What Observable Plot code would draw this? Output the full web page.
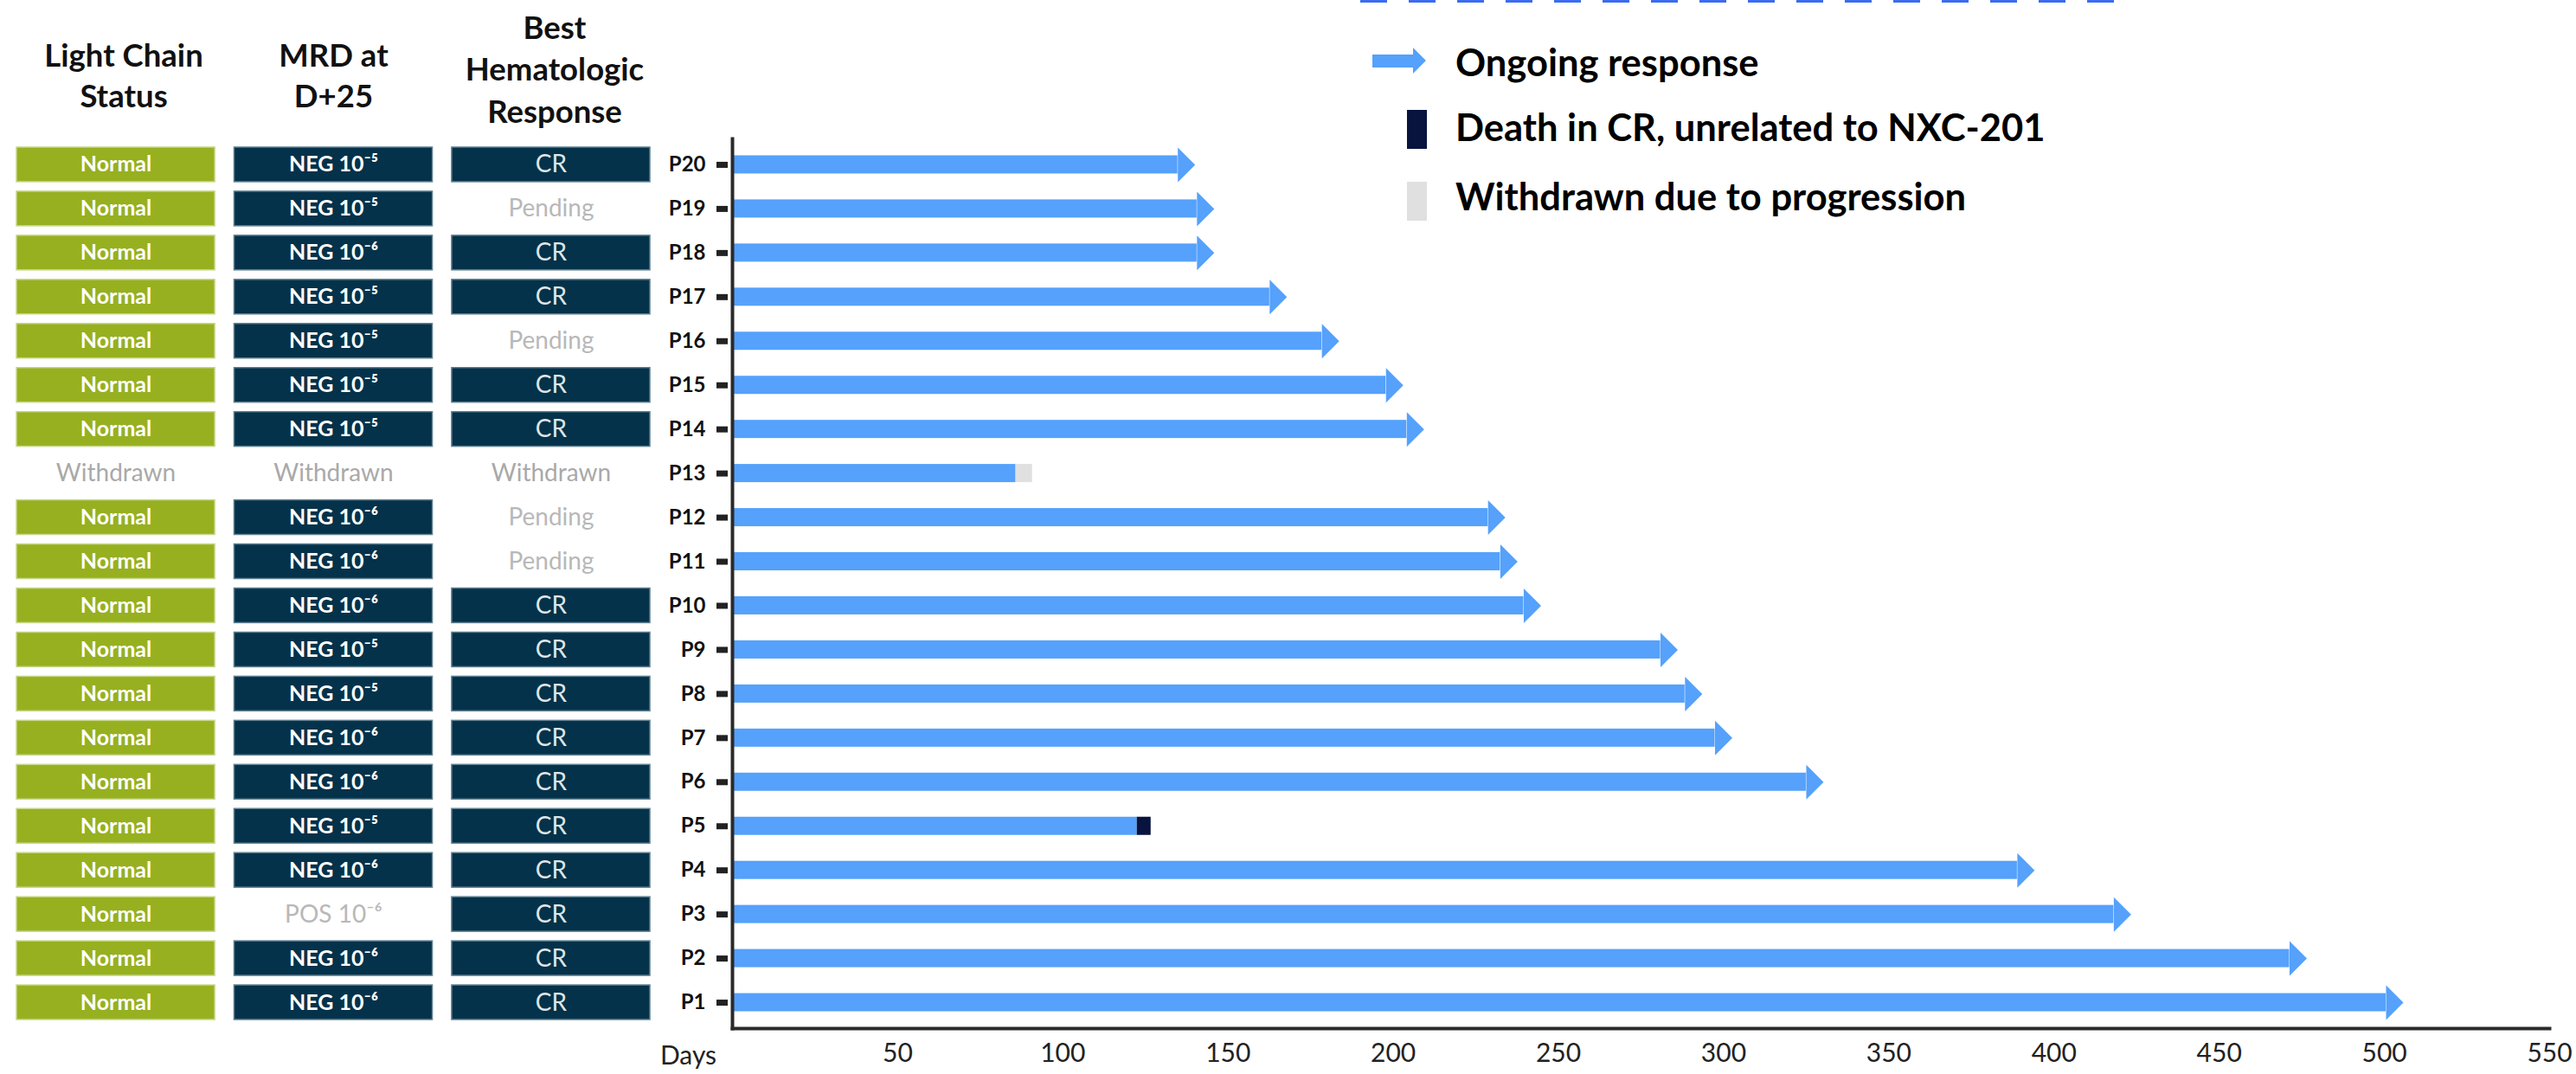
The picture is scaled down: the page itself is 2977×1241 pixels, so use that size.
<!DOCTYPE html>
<html>
<head>
<meta charset="utf-8">
<script src="https://cdn.jsdelivr.net/npm/d3@7"></script>
<script src="https://cdn.jsdelivr.net/npm/@observablehq/plot@0.6"></script>
<style>
  html, body { margin: 0; padding: 0; background: #fff; }
  #page { position: relative; width: 2977px; height: 1241px; display: flex; font-family: Lato, "Liberation Sans", sans-serif; overflow: hidden; }
  #table, #chart { flex: none; }
  #dash { position: absolute; left: 1572px; top: 0; width: 872px; height: 3px;
          background: repeating-linear-gradient(to right, #3b6cf0 0 31px, transparent 31px 56px); }
  .lg-label { position: absolute; left: 1682px; height: 50px; line-height: 50px; font-size: 43.5px; font-weight: bold; color: #000; white-space: nowrap; }
  .lg-swatch { position: absolute; }
</style>
</head>
<body>
<div id="page">
  <div id="table"></div>
  <div id="chart"></div>
  <div id="dash"></div>
  <div id="legend"></div>
</div>
<script>
// ---------- data ----------
const patients = ["P20","P19","P18","P17","P16","P15","P14","P13","P12","P11","P10","P9","P8","P7","P6","P5","P4","P3","P2","P1"];
const lightChain = ["Normal","Normal","Normal","Normal","Normal","Normal","Normal","Withdrawn","Normal","Normal","Normal","Normal","Normal","Normal","Normal","Normal","Normal","Normal","Normal","Normal"];
const mrdD25 = ["NEG 10⁻⁵","NEG 10⁻⁵","NEG 10⁻⁶","NEG 10⁻⁵","NEG 10⁻⁵","NEG 10⁻⁵","NEG 10⁻⁵","Withdrawn","NEG 10⁻⁶","NEG 10⁻⁶","NEG 10⁻⁶","NEG 10⁻⁵","NEG 10⁻⁵","NEG 10⁻⁶","NEG 10⁻⁶","NEG 10⁻⁵","NEG 10⁻⁶","POS 10⁻⁶","NEG 10⁻⁶","NEG 10⁻⁶"];
const bestResponse = ["CR","Pending","CR","CR","Pending","CR","CR","Withdrawn","Pending","Pending","CR","CR","CR","CR","CR","CR","CR","CR","CR","CR"];
// days of response (end of bar body)
const responseDays = [134.8,140.6,140.6,162.6,178.4,197.8,204.1,85.8,228.7,232.4,239.5,280.9,288.3,297.4,325.0,122.5,388.9,418.1,471.3,500.5];
const status = ["ongoing","ongoing","ongoing","ongoing","ongoing","ongoing","ongoing","withdrawn","ongoing","ongoing","ongoing","ongoing","ongoing","ongoing","ongoing","death","ongoing","ongoing","ongoing","ongoing"];
// terminal events
const eventPatients = ["P13","P5"];
const eventStart = [85.8, 122.5];
const eventEnd = [90.8, 126.7];
const eventType = ["withdrawn","death"];
// table headers and axis ticks
const columnKeys = ["lc","mrd","best"];
const columnHeaders = ["Light Chain\nStatus","MRD at\nD+25","Best\nHematologic\nResponse"];
const xTicks = [50,100,150,200,250,300,350,400,450,500,550];
const legendLabels = ["Ongoing response","Death in CR, unrelated to NXC-201","Withdrawn due to progression"];

// ---------- styling ----------
const FONT = 'Lato, "Liberation Sans", sans-serif';
const BLUE = "#55a1fb";
const GREEN = "#97b020";
const NAVY = "#04324a";
const DEATH = "#08143e";
const WITHDRAWN = "#e0e0e0";

// ---------- table ----------
const cells = patients.flatMap((p, i) => [
  {patient: p, col: "lc", value: lightChain[i]},
  {patient: p, col: "mrd", value: mrdD25[i]},
  {patient: p, col: "best", value: bestResponse[i]}
]);
const boxFill = v => v === "Normal" ? GREEN : (v.startsWith("NEG") || v === "CR") ? NAVY : null;
const boxStroke = v => v === "Normal" ? "#c6d68a" : "#5f7f90";
const isBold = v => v === "Normal" || v.startsWith("NEG");
const textFill = v => isBold(v) ? "#ffffff" : v === "CR" ? "#dfe5e8" : v === "Withdrawn" ? "#a9a9a9" : "#b8b8b8";
const headers = columnKeys.map((k, i) => ({key: k, label: columnHeaders[i], lines: columnHeaders[i].split("\n").length}));

const tablePlot = Plot.plot({
  width: 770, height: 1241,
  marginTop: 160, marginBottom: 53, marginLeft: 19, marginRight: 19,
  x: {type: "band", domain: columnKeys, paddingInner: 0.089, paddingOuter: 0, round: false, axis: null},
  y: {type: "band", domain: patients, paddingInner: 0.216, paddingOuter: 0.196, round: false, axis: null},
  color: {type: "identity"},
  style: {fontFamily: FONT, background: "transparent", overflow: "visible"},
  marks: [
    Plot.cell(cells.filter(d => boxFill(d.value)), {x: "col", y: "patient", fill: d => boxFill(d.value), stroke: d => boxStroke(d.value), strokeWidth: 1.5}),
    Plot.text(cells.filter(d => isBold(d.value)), {x: "col", y: "patient", text: "value", fill: d => textFill(d.value), fontSize: 25, fontWeight: "bold"}),
    Plot.text(cells.filter(d => !isBold(d.value)), {x: "col", y: "patient", text: "value", fill: d => textFill(d.value), fontSize: 28}),
    Plot.text(headers.filter(d => d.key === "lc"), {x: "key", text: "label", frameAnchor: "top", dx: 9, dy: -75, lineAnchor: "middle", lineHeight: 1.27, fontSize: 36.5, fontWeight: "bold", fill: "#111"}),
    Plot.text(headers.filter(d => d.key === "mrd"), {x: "key", text: "label", frameAnchor: "top", dy: -75, lineAnchor: "middle", lineHeight: 1.27, fontSize: 36.5, fontWeight: "bold", fill: "#111"}),
    Plot.text(headers.filter(d => d.key === "best"), {x: "key", text: "label", frameAnchor: "top", dx: 4, dy: -83, lineAnchor: "middle", lineHeight: 1.33, fontSize: 36.5, fontWeight: "bold", fill: "#111"})
  ]
});
document.getElementById("table").append(tablePlot);

// ---------- chart ----------
const bars = patients.map((p, i) => ({patient: p, days: responseDays[i], status: status[i]}));
const events = eventPatients.map((p, i) => ({patient: p, start: eventStart[i], end: eventEnd[i], type: eventType[i]}));
const arrowHead = {
  draw(context, size) {
    const r = Math.sqrt(size / Math.PI);
    context.moveTo(0, -r);
    context.lineTo(r, 0);
    context.lineTo(0, r);
    context.closePath();
  }
};

const chartPlot = Plot.plot({
  width: 2207, height: 1241,
  marginTop: 160, marginBottom: 53, marginLeft: 76, marginRight: 31,
  x: {domain: [0, 550], axis: null},
  y: {type: "band", domain: patients, paddingInner: 0.588, paddingOuter: 0.382, round: false, axis: null},
  color: {type: "identity"},
  style: {fontFamily: FONT, background: "transparent", color: "#111", overflow: "visible"},
  marks: [
    Plot.barX(bars, {x1: 0, x2: "days", y: "patient", fill: BLUE}),
    Plot.barX(events, {x1: "start", x2: "end", y: "patient", fill: d => d.type === "death" ? DEATH : WITHDRAWN}),
    Plot.dot(bars.filter(d => d.status === "ongoing"), {x: "days", y: "patient", symbol: arrowHead, r: 20, fill: BLUE, stroke: null}),
    Plot.frame({anchor: "left", stroke: "#2a2a2a", strokeWidth: 4}),
    Plot.frame({anchor: "bottom", stroke: "#2a2a2a", strokeWidth: 4}),
    Plot.axisY({tickSize: 13, dx: -5, tickPadding: 13, fontSize: 24, fontWeight: "bold", strokeWidth: 7, stroke: "#222", label: null}),
    Plot.axisX({ticks: xTicks, tickSize: 0, tickPadding: 17, fontSize: 30, label: null, fill: "#222"}),
    Plot.text(["Days"], {frameAnchor: "bottom-left", dx: -51, dy: 32, lineAnchor: "middle", textAnchor: "middle", fontSize: 30, fill: "#222"})
  ]
});
document.getElementById("chart").append(chartPlot);

// ---------- legend ----------
const legend = document.getElementById("legend");
const swatches = [
  {label: legendLabels[0], top: 46, sw: {left: 1586, top: 55, width: 62, height: 30, background: BLUE,
     clipPath: "polygon(0 26.7%, 75.8% 26.7%, 75.8% 0, 100% 50%, 75.8% 100%, 75.8% 76.7%, 0 76.7%)"}},
  {label: legendLabels[1], top: 121, sw: {left: 1626, top: 127, width: 23, height: 45, background: DEATH}},
  {label: legendLabels[2], top: 201, sw: {left: 1626, top: 210, width: 23, height: 45, background: WITHDRAWN}}
];
for (const s of swatches) {
  const d = document.createElement("div");
  d.className = "lg-swatch";
  d.style.left = s.sw.left + "px"; d.style.top = s.sw.top + "px";
  d.style.width = s.sw.width + "px"; d.style.height = s.sw.height + "px";
  d.style.background = s.sw.background;
  if (s.sw.clipPath) d.style.clipPath = s.sw.clipPath;
  legend.append(d);
  const t = document.createElement("div");
  t.className = "lg-label";
  t.style.top = s.top + "px";
  t.textContent = s.label;
  legend.append(t);
}
</script>
</body>
</html>
